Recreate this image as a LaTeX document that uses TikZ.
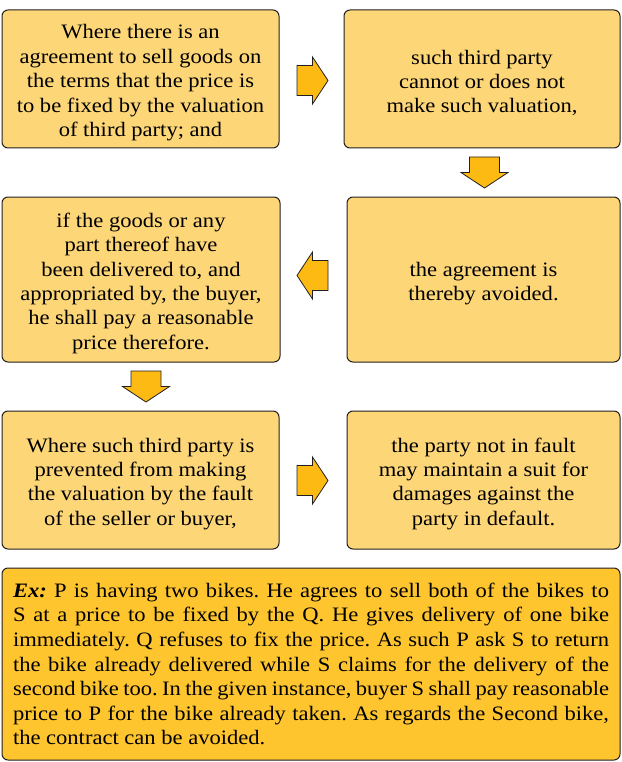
\documentclass[tikz,border=0pt]{standalone}
\usepackage{fontspec}
\setmainfont{Liberation Serif}[FakeStretch = 1.1]
\usepackage{tikz}

\definecolor{boxfill}{RGB}{253,214,120}
\definecolor{exfill}{RGB}{254,197,47}
\definecolor{arrowfill}{RGB}{252,186,18}
\definecolor{edge}{RGB}{35,31,32}

% taller first line, so the text sits a little low in its box
\newcommand{\firstline}{\rule{0pt}{22pt}}

\begin{document}
\frenchspacing
\begin{tikzpicture}[x = 1pt, y = -1pt,
                    step box/.style = {draw = edge, fill = boxfill, line width = 1pt, rounded corners = 6pt,
                                       align = center, inner sep = 0pt,
                                       font = \fontsize{20.5}{24.4}\selectfont},
                    ex box/.style = {draw = edge, fill = exfill, line width = 1pt, rounded corners = 6pt,
                                     minimum width = 618, minimum height = 192, inner sep = 0pt,
                                     text width = 596, align = justify,
                                     font = \fontsize{20.5}{24.6}\selectfont},
                    fat arrow/.pic = {\filldraw [draw = edge, fill = arrowfill, line width = 0.8pt]
                                      (-15.5,-15) -- (0,-15) -- (0,-23.5) -- (15.5,0) -- (0,23.5)
                                      -- (0,15) -- (-15.5,15) -- cycle;}]
  \useasboundingbox (0,0) rectangle (621,762);

  \node [step box, minimum width = 277, minimum height = 138] (B1) at (140.5,79)
    {\firstline Where there is an\\agreement to sell goods on\\the terms that the price is\\to be fixed by the valuation\\of third party; and};
  \node [step box, minimum width = 276, minimum height = 138] (B2) at (482,79)
    {\firstline such third party\\cannot or does not\\make such valuation,};
  \node [step box, minimum width = 278, minimum height = 165] (B3) at (141,279.5)
    {\firstline if the goods or any\\part thereof have\\been delivered to, and\\appropriated by, the buyer,\\he shall pay a reasonable\\price therefore.};
  \node [step box, minimum width = 273, minimum height = 165] (B4) at (483.5,279.5)
    {\firstline the agreement is\\thereby avoided.};
  \node [step box, minimum width = 277, minimum height = 138] (B5) at (140.5,480)
    {\firstline Where such third party is\\prevented from making\\the valuation by the fault\\of the seller or buyer,};
  \node [step box, minimum width = 273, minimum height = 138] (B6) at (483.5,480)
    {\firstline the party not in fault\\may maintain a suit for\\damages against the\\party in default.};

  \node [ex box] (Ex) at (311,664)
    {\textbf{\textit{Ex:}} P is having two bikes. He agrees to sell both of the bikes to\linebreak
     S at a price to be fixed by the Q. He gives delivery of one bike\linebreak
     immediately. Q refuses to fix the price. As such P ask S to return\linebreak
     the bike already delivered while S claims for the delivery of the\linebreak
     second bike too. In the given instance, buyer S shall pay reasonable\linebreak
     price to P for the bike already taken. As regards the Second bike,\linebreak
     the contract can be avoided.};

  % block arrows between the steps
  \pic at (312.5,80.5) {fat arrow};
  \pic [rotate = -90] at (484.5,172.5) {fat arrow};
  \pic [rotate = 180] at (312.5,275.5) {fat arrow};
  \pic [rotate = -90] at (146,386.5) {fat arrow};
  \pic at (312.5,480.5) {fat arrow};
\end{tikzpicture}
\end{document}
